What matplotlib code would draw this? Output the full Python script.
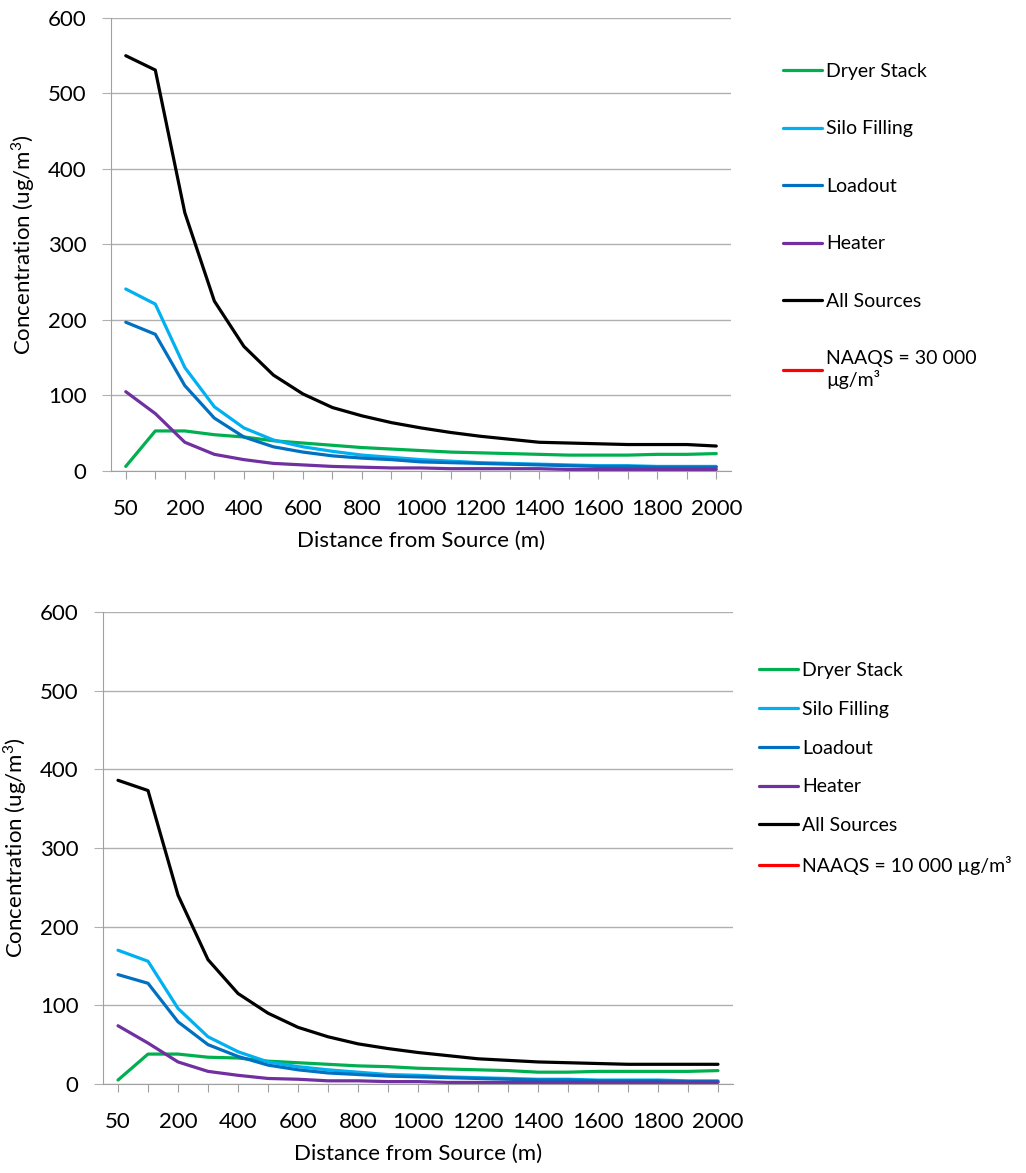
import numpy as np
import matplotlib
matplotlib.use("Agg")
import matplotlib.pyplot as plt

plt.rcParams['font.family'] = ['Lato', 'DejaVu Sans']
plt.rcParams['mathtext.fontset'] = 'custom'
plt.rcParams['mathtext.rm'] = 'Lato'

# Distance categories (m)
distances = [50, 100] + list(range(200, 2001, 100))
tick_labels = [str(d) if i % 2 == 0 else '' for i, d in enumerate(distances)]

# Top chart (NAAQS = 30 000)
dryer_top = [6, 53, 53, 48, 45, 40, 37, 34, 31, 29, 27, 25, 24, 23, 22, 21, 21, 21, 22, 22, 23]
silo_top = [241, 221, 137, 85, 57, 41, 32, 26, 21, 18, 15, 13, 11, 10, 9, 8, 7, 7, 6, 6, 6]
loadout_top = [197, 181, 113, 70, 45, 32, 25, 20, 17, 15, 12, 11, 10, 9, 8, 7, 6, 6, 5, 5, 5]
heater_top = [105, 76, 38, 22, 15, 10, 8, 6, 5, 4, 4, 3, 3, 3, 3, 2, 2, 2, 2, 2, 2]
all_top = [550, 531, 342, 225, 165, 127, 102, 84, 73, 64, 57, 51, 46, 42, 38, 37, 36, 35, 35, 35, 33]
naaqs_top = [30000] * 21

# Bottom chart (NAAQS = 10 000)
dryer_bot = [5, 38, 38, 34, 33, 29, 27, 25, 23, 22, 20, 19, 18, 17, 15, 15, 16, 16, 16, 16, 17]
silo_bot = [170, 156, 96, 60, 41, 28, 22, 18, 15, 12, 11, 9, 8, 7, 6, 6, 5, 5, 5, 4, 4]
loadout_bot = [139, 128, 79, 50, 35, 24, 18, 14, 12, 10, 9, 8, 7, 6, 5, 5, 4, 4, 4, 3, 3]
heater_bot = [74, 52, 28, 16, 11, 7, 6, 4, 4, 3, 3, 2, 2, 2, 2, 2, 2, 2, 2, 2, 2]
all_bot = [386, 373, 240, 158, 115, 90, 72, 60, 51, 45, 40, 36, 32, 30, 28, 27, 26, 25, 25, 25, 25]
naaqs_bot = [10000] * 21

colors = ['#00B050', '#00B0F0', '#0070C0', '#7030A0', '#000000', '#FF0000']
names = ['Dryer Stack', 'Silo Filling', 'Loadout', 'Heater', 'All Sources']

fig = plt.figure(figsize=(10.26, 11.73), dpi=100)
ax1 = fig.add_axes([0.1082, 0.5985, 0.6043, 0.3862])
ax2 = fig.add_axes([0.1004, 0.0759, 0.6140, 0.4024])

x = np.arange(len(distances))


def draw(ax, series, naaqs_label, legend_pos, spacing):
    for vals, c, n in zip(series, colors, names + [naaqs_label]):
        ax.plot(x, vals, color=c, lw=2.3, label=n, solid_capstyle='round')
    ax.set_xlim(-0.5, len(distances) - 0.5)
    ax.set_ylim(0, 600)
    ax.set_yticks(range(0, 601, 100))
    ax.set_xticks(x)
    ax.set_xticklabels(tick_labels)
    ax.grid(axis='y', color='#B0B0B0', lw=1)
    ax.set_axisbelow(True)
    for s in ['top', 'right']:
        ax.spines[s].set_visible(False)
    for s in ['left', 'bottom']:
        ax.spines[s].set_color('#A0A0A0')
    ax.tick_params(axis='x', length=6, color='#A0A0A0', labelsize=16, pad=14)
    ax.tick_params(axis='y', length=6.5, color='#B0B0B0', labelsize=16, pad=11)
    ax.set_xlabel('Distance from Source (m)', fontsize=16, labelpad=9)
    ax.set_ylabel('Concentration (ug/m$^3$)', fontsize=16, labelpad=8)
    ax.legend(loc='upper left', bbox_to_anchor=legend_pos, bbox_transform=fig.transFigure,
              frameon=False, fontsize=14, handlelength=2.0, handletextpad=0.2,
              labelspacing=spacing, borderpad=0, borderaxespad=0)


draw(ax1, [dryer_top, silo_top, loadout_top, heater_top, all_top, naaqs_top],
     'NAAQS = 30 000\nµg/m³', (783 / 1026, 1 - 63 / 1173), 2.08)
draw(ax2, [dryer_bot, silo_bot, loadout_bot, heater_bot, all_bot, naaqs_bot],
     'NAAQS = 10 000 µg/m³', (759 / 1026, 1 - 662 / 1173), 1.12)

fig.savefig('out.png', dpi=100)
